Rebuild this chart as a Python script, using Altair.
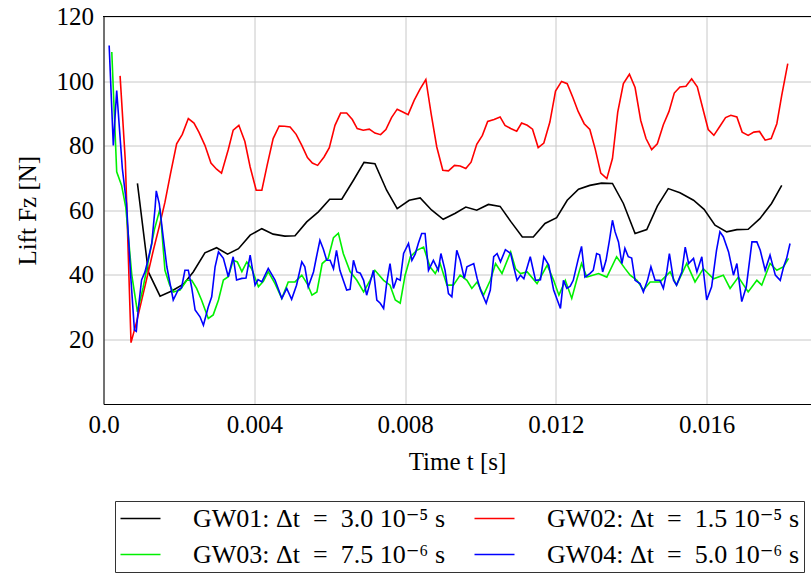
import altair as alt
import pandas as pd

# ---- data (time [s], lift [N]) ----
series_names = ["GW01: Δt\u2002=\u20023.0 10⁻⁵ s", "GW02: Δt\u2002=\u20021.5 10⁻⁵ s",
                "GW03: Δt\u2002=\u20027.5 10⁻⁶ s", "GW04: Δt\u2002=\u20025.0 10⁻⁶ s"]
series_colors = ["#000000", "#ff0000", "#00f000", "#0000ff"]

gw01 = [(0.0009, 68.3), (0.00119, 40.9), (0.0015, 33.4), (0.00181, 35.0), (0.00212, 37.1),
        (0.00238, 40.9), (0.00269, 46.8), (0.0030, 48.4), (0.00329, 46.4), (0.00358, 48.1),
        (0.00389, 52.3), (0.0042, 54.3), (0.0045, 52.6), (0.00481, 52.0), (0.00508, 52.1),
        (0.00539, 56.4), (0.0057, 59.5), (0.006, 63.4), (0.00632, 63.4), (0.00663, 69.3),
        (0.00691, 74.8), (0.0072, 74.4), (0.00751, 66.2), (0.00779, 60.5), (0.00811, 63.1),
        (0.0084, 63.8), (0.0087, 60.1), (0.00901, 57.2), (0.00932, 59.0), (0.00961, 61.0),
        (0.0099, 60.0), (0.01021, 61.8), (0.01052, 61.2), (0.01081, 56.4), (0.01111, 51.7),
        (0.0114, 51.7), (0.01171, 55.9), (0.01202, 57.7), (0.0123, 63.1), (0.0126, 66.5),
        (0.0129, 67.7), (0.01321, 68.4), (0.0135, 68.3), (0.01379, 62.1), (0.0141, 52.8),
        (0.01441, 54.0), (0.01469, 61.3), (0.01498, 66.7), (0.01529, 65.4), (0.01565, 63.1),
        (0.01593, 60.3), (0.01622, 55.4), (0.01653, 53.3), (0.0168, 54.0), (0.0171, 54.1),
        (0.01741, 57.4), (0.01772, 62.1), (0.01799, 67.7)]

gw02 = [(0.00044, 101.6), (0.00058, 75.0), (0.00073, 19.0), (0.00088, 25.5), (0.00103, 33.0),
        (0.00118, 40.5), (0.00133, 48.0), (0.00148, 55.0), (0.00163, 62.5), (0.00178, 71.5),
        (0.00194, 80.6), (0.00209, 83.5), (0.00225, 88.4), (0.0024, 87.0), (0.00253, 84.2),
        (0.00269, 80.1), (0.00285, 74.6), (0.003, 72.7), (0.00313, 71.5), (0.00331, 78.8),
        (0.00344, 84.8), (0.00359, 86.3), (0.00375, 81.3), (0.00389, 73.4), (0.00405, 66.2),
        (0.0042, 66.2), (0.00434, 73.9), (0.0045, 82.2), (0.00466, 86.1), (0.0048, 86.0),
        (0.00495, 85.8), (0.00511, 83.5), (0.00526, 80.1), (0.00541, 76.3), (0.00554, 74.6),
        (0.00568, 73.9), (0.00585, 76.5), (0.00599, 79.4), (0.00614, 86.3), (0.00629, 90.1),
        (0.00645, 90.1), (0.0066, 88.1), (0.00673, 85.3), (0.00689, 84.8), (0.00705, 85.1),
        (0.0072, 83.9), (0.00735, 83.4), (0.00749, 85.0), (0.00764, 88.7), (0.00779, 91.3),
        (0.00794, 90.4), (0.00808, 89.6), (0.00824, 94.0), (0.0084, 97.6), (0.00855, 100.5),
        (0.00869, 89.9), (0.00884, 79.6), (0.009, 72.4), (0.00915, 72.2), (0.00931, 73.9),
        (0.00946, 73.7), (0.00961, 72.9), (0.00975, 74.9), (0.0099, 80.4), (0.01005, 83.2),
        (0.01019, 87.5), (0.01036, 88.1), (0.01052, 88.9), (0.01065, 86.3), (0.0108, 85.3),
        (0.01096, 84.5), (0.01109, 87.0), (0.01124, 86.3), (0.01138, 85.1), (0.01153, 79.4),
        (0.01168, 80.8), (0.01184, 87.3), (0.01199, 96.9), (0.01215, 99.9), (0.0123, 99.2),
        (0.01245, 94.9), (0.01259, 90.6), (0.01275, 86.8), (0.0129, 85.0), (0.01304, 79.1),
        (0.01319, 71.5), (0.01335, 69.8), (0.0135, 76.0), (0.01364, 90.4), (0.01379, 99.2),
        (0.01395, 102.1), (0.0141, 98.0), (0.01425, 87.8), (0.01439, 82.2), (0.01454, 78.8),
        (0.01469, 80.6), (0.01485, 86.5), (0.015, 90.6), (0.01514, 96.3), (0.01529, 98.2),
        (0.01545, 98.4), (0.0156, 100.7), (0.01575, 98.2), (0.01589, 91.8), (0.01604, 85.0),
        (0.01619, 83.2), (0.01635, 86.0), (0.0165, 88.7), (0.01664, 89.4), (0.0168, 88.9),
        (0.01694, 84.2), (0.0171, 83.2), (0.01725, 84.2), (0.0174, 84.4), (0.01755, 81.7),
        (0.01771, 82.2), (0.01786, 86.8), (0.01799, 95.6), (0.01815, 105.4)]

gw03 = [(0.00022, 109.0), (0.00035, 71.9), (0.00048, 67.7), (0.00059, 61.0), (0.00075, 40.0),
        (0.0009, 28.5), (0.00105, 36.0), (0.0012, 45.0), (0.00135, 54.0), (0.0015, 60.5),
        (0.00163, 41.4), (0.00175, 37.0), (0.00185, 34.7), (0.00203, 35.3), (0.00221, 38.3),
        (0.00234, 38.3), (0.00247, 35.8), (0.0026, 32.2), (0.00278, 26.5), (0.00291, 27.6),
        (0.00305, 32.2), (0.00318, 38.4), (0.00331, 39.4), (0.00344, 44.5), (0.00355, 44.0),
        (0.00367, 41.0), (0.0038, 44.0), (0.00393, 41.9), (0.00411, 36.3), (0.00424, 38.0),
        (0.00437, 41.0), (0.00455, 37.3), (0.00473, 32.7), (0.0049, 37.8), (0.00508, 37.8),
        (0.00526, 39.9), (0.0054, 37.3), (0.00553, 33.7), (0.00566, 34.7), (0.0058, 43.5),
        (0.00596, 45.1), (0.0061, 51.5), (0.00623, 52.9), (0.00636, 46.6), (0.00654, 41.0),
        (0.00672, 38.3), (0.0069, 34.7), (0.00707, 38.3), (0.0072, 41.4), (0.00743, 38.3),
        (0.0076, 36.8), (0.00774, 32.2), (0.00787, 31.2), (0.008, 39.9), (0.00814, 45.6),
        (0.00831, 47.6), (0.00849, 48.6), (0.00866, 42.5), (0.0088, 40.4), (0.00893, 43.5),
        (0.00911, 36.8), (0.00928, 36.8), (0.00946, 39.9), (0.00964, 38.3), (0.00977, 35.8),
        (0.00991, 37.8), (0.01008, 33.7), (0.01026, 38.3), (0.0104, 43.5), (0.01057, 40.4),
        (0.0108, 47.1), (0.01093, 41.9), (0.01106, 40.4), (0.01124, 40.9), (0.0115, 37.3),
        (0.01177, 43.0), (0.01194, 38.3), (0.01208, 33.7), (0.01225, 38.3), (0.01242, 32.7),
        (0.01255, 38.3), (0.01268, 43.5), (0.01282, 39.3), (0.01313, 40.4), (0.01335, 39.3),
        (0.01361, 45.6), (0.01383, 42.0), (0.01397, 39.9), (0.01415, 38.3), (0.01432, 35.3),
        (0.0145, 37.8), (0.01476, 37.8), (0.01503, 40.9), (0.0152, 36.8), (0.01547, 43.5),
        (0.01569, 37.8), (0.01591, 41.9), (0.01618, 38.8), (0.01644, 39.9), (0.01662, 35.8),
        (0.01684, 39.3), (0.0171, 34.7), (0.01733, 38.3), (0.01746, 36.8), (0.01768, 43.5),
        (0.01786, 41.4), (0.01804, 42.5), (0.01817, 45.1)]

gw04 = [(0.00015, 111.0), (0.00026, 80.1), (0.00035, 97.1), (0.0005, 72.9), (0.00061, 62.1),
        (0.00072, 40.0), (0.00082, 22.9), (0.00087, 22.5), (0.00092, 29.1), (0.00101, 38.4),
        (0.0011, 40.9), (0.00119, 45.1), (0.00128, 49.7), (0.00137, 61.0), (0.0014, 66.0),
        (0.00148, 62.0), (0.00158, 52.0), (0.00168, 42.5), (0.00177, 37.0), (0.00185, 32.2),
        (0.00198, 35.3), (0.00207, 36.0), (0.00216, 41.4), (0.00225, 41.4), (0.00234, 36.0),
        (0.00243, 29.1), (0.00256, 27.0), (0.00265, 24.4), (0.00278, 30.1), (0.00287, 33.2),
        (0.00296, 42.5), (0.00305, 47.1), (0.00318, 45.1), (0.00331, 39.4), (0.00344, 45.6),
        (0.00353, 38.4), (0.00367, 38.9), (0.00378, 39.0), (0.00389, 46.1), (0.00402, 36.8),
        (0.0041, 38.5), (0.0042, 37.8), (0.00437, 42.0), (0.00455, 38.4), (0.00473, 32.7),
        (0.00486, 35.8), (0.00499, 32.4), (0.00512, 36.8), (0.00526, 44.0), (0.00534, 42.5),
        (0.00543, 36.3), (0.00557, 40.9), (0.00565, 45.6), (0.00574, 50.7), (0.00583, 48.0),
        (0.00592, 44.5), (0.00601, 44.5), (0.0061, 41.9), (0.00618, 47.6), (0.00627, 41.4),
        (0.00636, 38.3), (0.00645, 35.3), (0.00654, 35.5), (0.00663, 44.5), (0.00672, 40.9),
        (0.00681, 40.5), (0.0069, 38.3), (0.00698, 33.7), (0.00707, 37.5), (0.00716, 41.4),
        (0.00725, 32.2), (0.00734, 31.2), (0.00743, 29.6), (0.00751, 37.3), (0.0076, 43.5),
        (0.00769, 35.8), (0.00778, 38.9), (0.00787, 38.3), (0.00796, 46.6), (0.00809, 49.7),
        (0.00818, 44.5), (0.00827, 46.5), (0.00835, 49.7), (0.00844, 52.8), (0.00853, 52.8),
        (0.00862, 41.4), (0.00875, 44.5), (0.00888, 41.4), (0.00895, 46.6), (0.00906, 41.4),
        (0.00915, 34.2), (0.00924, 33.2), (0.00937, 47.6), (0.00946, 44.5), (0.00957, 38.9),
        (0.00964, 42.5), (0.00982, 43.5), (0.00991, 38.9), (0.01, 35.3), (0.01015, 31.2),
        (0.01026, 35.3), (0.01035, 45.6), (0.01044, 46.6), (0.01053, 44.0), (0.01066, 47.8),
        (0.0108, 46.6), (0.01088, 42.5), (0.01097, 38.3), (0.01106, 39.9), (0.01115, 38.8),
        (0.01132, 45.6), (0.01146, 38.3), (0.01159, 38.5), (0.01168, 45.6), (0.01181, 43.0),
        (0.01194, 35.3), (0.01212, 29.6), (0.0122, 38.3), (0.01229, 35.8), (0.01238, 36.5),
        (0.01246, 38.3), (0.01259, 44.8), (0.01268, 48.8), (0.01277, 39.3), (0.0129, 40.4),
        (0.01299, 41.4), (0.01308, 46.6), (0.01316, 46.2), (0.01324, 40.9), (0.01333, 44.5),
        (0.01342, 50.7), (0.0135, 56.9), (0.01357, 53.3), (0.01366, 50.2), (0.01375, 43.5),
        (0.01383, 48.2), (0.01392, 45.6), (0.01401, 45.2), (0.0141, 38.3), (0.01423, 37.3),
        (0.01432, 34.7), (0.01443, 38.3), (0.01452, 42.5), (0.01463, 38.3), (0.01476, 38.3),
        (0.01485, 35.8), (0.01494, 40.9), (0.01501, 46.6), (0.01512, 38.3), (0.0152, 36.8),
        (0.01534, 40.9), (0.01543, 48.6), (0.01552, 43.5), (0.01565, 45.1), (0.01574, 40.9),
        (0.01587, 45.6), (0.016, 32.2), (0.01613, 36.3), (0.01626, 47.6), (0.01635, 53.3),
        (0.01644, 51.8), (0.01658, 47.1), (0.01671, 39.9), (0.0168, 43.5), (0.01693, 31.7),
        (0.01705, 36.3), (0.0172, 50.2), (0.01733, 50.2), (0.01742, 47.6), (0.01755, 41.4),
        (0.01768, 46.1), (0.01782, 39.9), (0.01795, 38.3), (0.01804, 42.5), (0.01812, 45.1),
        (0.01821, 49.7)]

x_ticks = [0.0, 0.004, 0.008, 0.012, 0.016]
y_ticks = [20, 40, 60, 80, 100, 120]

rows = []
for name, pts in zip(series_names, [gw01, gw02, gw03, gw04]):
    for i, (t, f) in enumerate(pts):
        rows.append({"t": t, "F": f, "series": name, "i": i})
df = pd.DataFrame(rows)

SERIF = "Liberation Serif, 'Times New Roman', Times, 'DejaVu Serif', serif"
FS = 25
PLOT_W, PLOT_H = 707, 387.5

color = alt.Color(
    "series:N",
    scale=alt.Scale(domain=series_names, range=series_colors),
    legend=alt.Legend(
        orient="none", legendX=11.5, legendY=484.5, columns=2, direction="horizontal",
        title=None,
        symbolType="stroke", symbolSize=1600, symbolStrokeWidth=1.6,
        clipHeight=26,
        labelFont=SERIF, labelFontSize=26, labelColor="black",
        labelOffset=31.5, columnPadding=28, rowPadding=10, padding=4.5,
        strokeColor="#333333", fillColor="white", labelLimit=500,
    ),
)

xenc = alt.X(
    "t:Q",
    scale=alt.Scale(domain=[0, 0.018753], nice=False, zero=False),
    axis=alt.Axis(
        values=x_ticks, title="Time t [s]",
        labelExpr="datum.value == 0 ? '0.0' : format(datum.value, '.3f')",
        tickSize=0, labelPadding=8, titlePadding=12, labelFlush=False,
    ),
)
yenc = alt.Y(
    "F:Q",
    scale=alt.Scale(domain=[0, 120], nice=False),
    axis=alt.Axis(values=y_ticks, title="Lift Fz  [N]", tickSize=0,
                  labelPadding=10, titlePadding=16, labelFlush=False),
)

layers = []
for name in series_names:
    layers.append(
        alt.Chart(df)
        .transform_filter(alt.datum.series == name)
        .mark_line(strokeWidth=1.6, clip=True)
        .encode(x=xenc, y=yenc, color=color, order="i:Q")
    )

top_border = alt.Chart(df).mark_rule(color="black", strokeWidth=1).encode(
    x=alt.value(0), x2=alt.value(PLOT_W), y=alt.value(0)
)

chart = (
    alt.layer(*layers, top_border)
    .properties(
        width=PLOT_W, height=PLOT_H,
        autosize=alt.AutoSizeParams(type="none"),
        padding={"left": 103.5, "top": 16.5, "right": 0.5, "bottom": 175},
    )
    .configure_view(stroke=None)
    .configure_axis(
        labelFont=SERIF, labelFontSize=FS, labelColor="black",
        titleFont=SERIF, titleFontSize=FS, titleColor="black", titleFontWeight="normal",
        gridColor="#c8c8c8", gridWidth=1, domainColor="black", domainWidth=1,
    )
)

chart.save("out.html", embed_options={"renderer": "svg", "actions": False})
